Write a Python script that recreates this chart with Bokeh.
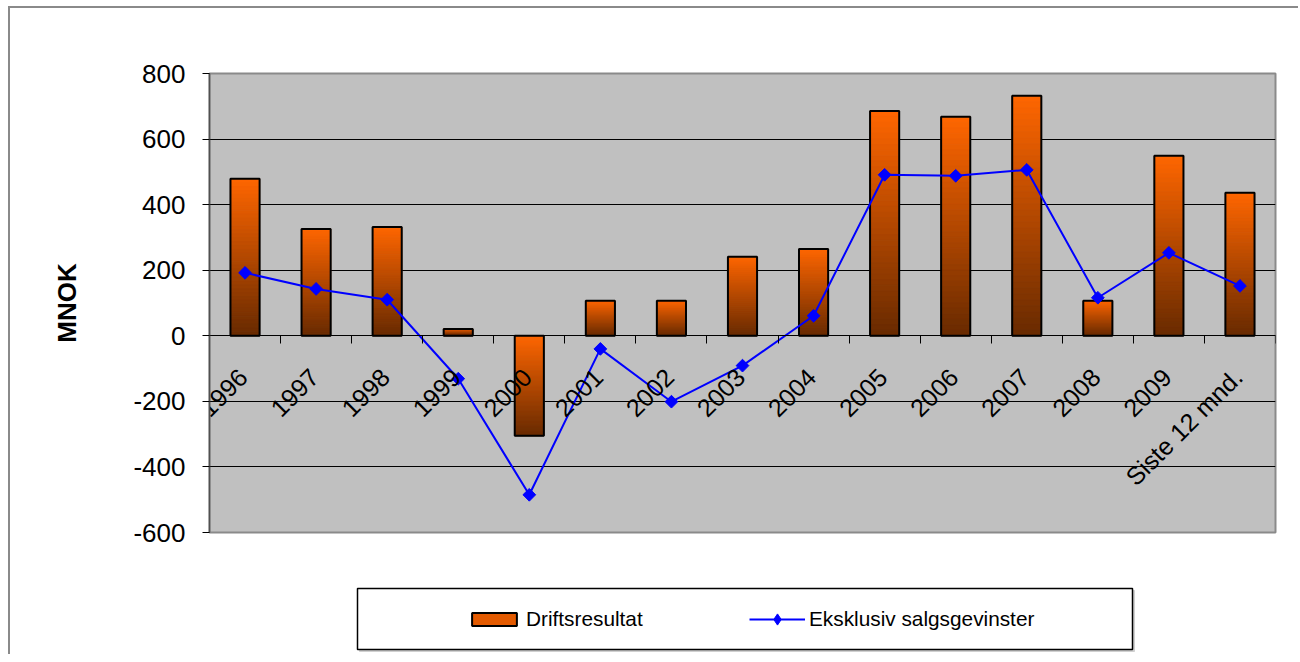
import math
from bokeh.plotting import figure
from bokeh.layouts import column
from bokeh.models import (Range1d, FixedTicker, LinearAxis, Legend, LegendItem, BoxAnnotation)
from bokeh.core.properties import value
from bokeh.embed import file_html
from bokeh.resources import INLINE

categories = ["1996", "1997", "1998", "1999", "2000", "2001", "2002", "2003",
              "2004", "2005", "2006", "2007", "2008", "2009", "Siste 12 mnd."]
driftsresultat = [479, 326, 332, 21, -305, 107, 107, 241, 265, 686, 668, 732, 107, 549, 436]
eksklusiv = [192, 143, 110, -131, -485, -40, -201, -91, 61, 491, 488, 506, 116, 253, 152]
y_ticks = [-600, -400, -200, 0, 200, 400, 600, 800]
series_names = ["Driftsresultat", "Eksklusiv salgsgevinster"]

FONT = "Liberation Sans"
W = 1288
BL, BR = 199, W - 1265

p = figure(width=W, height=570, output_backend="svg", toolbar_location=None,
           x_range=Range1d(0, len(categories)), y_range=Range1d(-600, 800),
           x_axis_location=None,
           min_border_left=BL, min_border_right=BR, min_border_top=65, min_border_bottom=46)

p.background_fill_color = "#C0C0C0"
p.border_fill_color = "white"
p.outline_line_color = "#8a8a8a"
p.outline_line_width = 2

# y axis
yax = p.yaxis[0]
yax.ticker = FixedTicker(ticks=y_ticks)
yax.major_label_overrides = {t: str(t) for t in y_ticks}
yax.minor_tick_line_color = None
yax.major_tick_in = 0
yax.major_tick_out = 7
yax.major_tick_line_color = "black"
yax.axis_line_color = "#505050"
yax.axis_line_width = 1.5
yax.major_label_text_font = FONT
yax.major_label_text_font_size = "26px"
yax.major_label_text_color = "black"
yax.major_label_standoff = 17
yax.axis_label = "MNOK"
yax.axis_label_text_font = FONT
yax.axis_label_text_font_size = "26px"
yax.axis_label_text_font_style = "bold"
yax.axis_label_text_color = "black"
yax.axis_label_standoff = 48

p.ygrid.ticker = FixedTicker(ticks=y_ticks)
p.ygrid.grid_line_color = "black"
p.ygrid.grid_line_width = 1
p.xgrid.grid_line_color = None

# category boundary ticks at the zero line
bounds = list(range(len(categories) + 1))
xax = LinearAxis(ticker=FixedTicker(ticks=bounds), fixed_location=0)
xax.major_label_overrides = {b: "" for b in bounds}
xax.major_tick_in = 8
xax.major_tick_out = 0
xax.minor_tick_line_color = None
xax.major_tick_line_color = "black"
xax.axis_line_color = "black"
xax.major_label_standoff = 0
p.add_layout(xax, "above")

# gradient bars built from slices of each bar
N = 40
top_c = (255, 102, 0)
bot_c = (104, 42, 0)
gx, gtop, gbot, gcol = [], [], [], []
for i, v in enumerate(driftsresultat):
    hi, lo = max(v, 0), min(v, 0)
    for k in range(N):
        t0 = hi - (hi - lo) * k / N
        t1 = hi - (hi - lo) * (k + 1) / N
        f = (k + 0.5) / N
        c = tuple(int(round(top_c[j] + (bot_c[j] - top_c[j]) * f)) for j in range(3))
        gx.append(i + 0.5)
        gtop.append(t0)
        gbot.append(t1)
        gcol.append("#%02x%02x%02x" % c)
p.vbar(x=gx, top=gtop, bottom=gbot, width=0.41, fill_color=gcol, line_color=gcol, line_width=1)

xs = [i + 0.5 for i in range(len(categories))]
bar_tops = [max(v, 0) for v in driftsresultat]
bar_bottoms = [min(v, 0) for v in driftsresultat]
p.vbar(x=xs, top=bar_tops, bottom=bar_bottoms,
       width=0.41, fill_color=None, line_color="black", line_width=2)

p.line(xs, eksklusiv, line_color="#0000FF", line_width=2)
p.scatter(xs, eksklusiv, marker="square", angle=math.pi / 4, size=9,
          fill_color="#0000FF", line_color="#0000FF")

# category labels
p.text(x=xs, y=[0] * len(categories), text=categories, angle=math.pi / 4,
       text_align="right", text_baseline="middle", y_offset=37, x_offset=-2,
       text_font=value(FONT), text_font_size="25px", text_color="black")

# legend strip (same frame alignment as the main plot); proxies are hidden
QH = 76
q = figure(width=W, height=QH, output_backend="svg", toolbar_location=None,
           x_axis_location=None, y_axis_location=None,
           x_range=Range1d(-3, -2), y_range=Range1d(-3000, -2000),
           min_border_left=BL, min_border_right=BR, min_border_top=0, min_border_bottom=0)
q.background_fill_color = "white"
q.border_fill_color = "white"
q.outline_line_color = None
q.xgrid.grid_line_color = None
q.ygrid.grid_line_color = None

q.add_layout(BoxAnnotation(left=349, right=1124, top=12, bottom=73,
                           left_units="canvas", right_units="canvas",
                           top_units="canvas", bottom_units="canvas",
                           fill_color="#d0d0d0", fill_alpha=1,
                           line_color="#d0d0d0", line_alpha=1, line_width=1))
q.add_layout(BoxAnnotation(left=347, right=1122, top=10, bottom=71,
                           left_units="canvas", right_units="canvas",
                           top_units="canvas", bottom_units="canvas",
                           fill_color="white", fill_alpha=1,
                           line_color="black", line_alpha=1, line_width=1.5))

bar_proxy = q.vbar(x=xs, top=bar_tops, bottom=bar_bottoms, width=0.41,
                   fill_color="#E35A00", line_color="black", line_width=2, visible=False)
line_proxy = q.line(x=xs, y=eksklusiv, line_color="#0000FF", line_width=2, visible=False)
mark_proxy = q.scatter(x=xs, y=eksklusiv, marker="diamond", size=15,
                       fill_color="#0000FF", line_color="#0000FF", visible=False)


def style_legend(lg, gh):
    lg.border_line_alpha = 0
    lg.background_fill_alpha = 0
    lg.padding = 0
    lg.margin = 0
    lg.glyph_width = 56
    lg.glyph_height = gh
    lg.label_height = 20
    lg.label_width = 0
    lg.label_standoff = 4
    lg.label_text_font = FONT
    lg.label_text_font_size = "20.8px"
    lg.label_text_color = "black"


legend1 = Legend(items=[LegendItem(label=series_names[0], renderers=[bar_proxy])],
                 orientation="horizontal", location=(257, 23.5))
style_legend(legend1, 16)
q.add_layout(legend1, "center")

legend2 = Legend(items=[LegendItem(label=series_names[1], renderers=[line_proxy, mark_proxy])],
                 orientation="horizontal", location=(540, 21.5))
style_legend(legend2, 28)
q.add_layout(legend2, "center")

layout = column(p, q, spacing=0,
                styles={"border-left": "2px solid #8a8a8a", "border-top": "2px solid #8a8a8a",
                        "margin-left": "8px", "margin-top": "6px"})

open("out.html", "w").write(file_html(layout, INLINE))
